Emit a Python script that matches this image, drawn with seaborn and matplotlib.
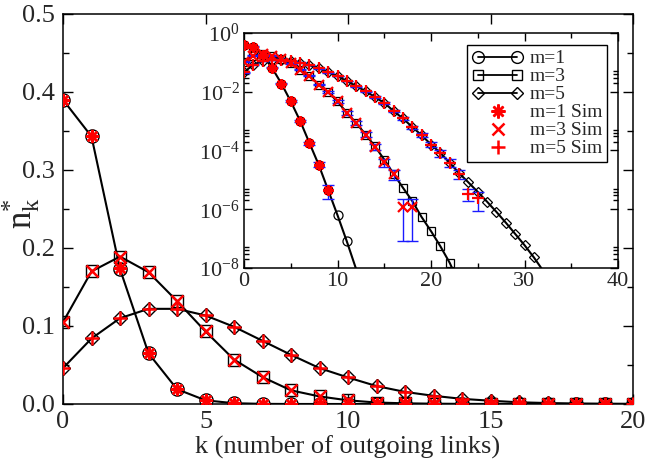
import matplotlib
matplotlib.use("Agg")
import matplotlib.pyplot as plt
import seaborn as sns
import numpy as np
import pandas as pd
from matplotlib.lines import Line2D
from matplotlib.legend_handler import HandlerLine2D
from matplotlib.ticker import MultipleLocator, FixedLocator, NullFormatter, LogFormatterMathtext, FormatStrFormatter

# ---------------- data ----------------
k_theory = list(range(33))
theory_m1 = [0.39, 0.343, 0.173, 0.065, 0.019, 4.7e-3, 1.02e-3, 1.8e-4, 3.2e-5, 4.5e-6,
             6.3e-7, 8.0e-8, 9.0e-9, 0, 0, 0, 0, 0, 0, 0,
             0, 0, 0, 0, 0, 0, 0, 0, 0, 0, 0, 0, 0]
theory_m3 = [0.105, 0.170, 0.189, 0.169, 0.132, 0.093, 0.057, 0.0345, 0.0175, 0.0097,
             0.0047, 0.0019, 8.7e-4, 3.5e-4, 1.4e-4, 4.9e-5, 1.6e-5, 5.4e-6, 1.9e-6, 5.4e-7,
             1.8e-7, 5.5e-8, 1.5e-8, 3.0e-9, 0, 0, 0, 0, 0, 0, 0, 0, 0]
theory_m5 = [0.046, 0.084, 0.110, 0.122, 0.122, 0.1135, 0.099, 0.081, 0.063, 0.046,
             0.034, 0.023, 0.0155, 0.0105, 0.0066, 0.0042, 0.0022, 1.23e-3, 6.3e-4, 3.3e-4,
             1.6e-4, 8.3e-5, 3.8e-5, 1.7e-5, 8.2e-6, 3.9e-6, 1.8e-6, 8.1e-7, 3.5e-7, 1.45e-7,
             6.0e-8, 2.3e-8, 8.0e-9]

k_sim = list(range(26))
sim_m1 = [0.39, 0.343, 0.174, 0.066, 0.019, 4.8e-3, 1.0e-3, 1.8e-4, 3.3e-5, 4.6e-6,
          0, 0, 0, 0, 0, 0, 0, 0, 0, 0, 0, 0, 0, 0, 0, 0]
sim_m3 = [0.105, 0.170, 0.189, 0.169, 0.132, 0.093, 0.057, 0.0345, 0.0175, 0.0097,
          0.0047, 0.0019, 8.6e-4, 3.5e-4, 1.35e-4, 4.0e-5, 1.6e-5, 1.2e-6, 1.2e-6, 0,
          0, 0, 0, 0, 0, 0]
sim_m5 = [0.046, 0.084, 0.110, 0.122, 0.122, 0.1135, 0.099, 0.081, 0.063, 0.046,
          0.034, 0.023, 0.0155, 0.0105, 0.0066, 0.0042, 0.0022, 1.23e-3, 6.3e-4, 3.3e-4,
          1.6e-4, 8.3e-5, 3.8e-5, 1.6e-5, 3.4e-6, 2.4e-6]
# relative error bars of simulation points
relerr_m1 = [0.02, 0.02, 0.02, 0.03, 0.04, 0.06, 0.08, 0.12, 0.2, 0.5,
             0, 0, 0, 0, 0, 0, 0, 0, 0, 0, 0, 0, 0, 0, 0, 0]
relerr_m3 = [0.02, 0.02, 0.02, 0.02, 0.02, 0.02, 0.03, 0.04, 0.05, 0.07,
             0.1, 0.12, 0.15, 0.2, 0.25, 0.3, 0.4, 0.93, 0.93, 0,
             0, 0, 0, 0, 0, 0]
relerr_m5 = [0.02, 0.02, 0.02, 0.02, 0.02, 0.02, 0.02, 0.02, 0.02, 0.02,
             0.02, 0.02, 0.03, 0.04, 0.05, 0.06, 0.08, 0.1, 0.12, 0.15,
             0.2, 0.25, 0.3, 0.35, 0.45, 0.65]

labels_theory = ["m=1", "m=3", "m=5"]
labels_sim = ["m=1 Sim", "m=3 Sim", "m=5 Sim"]
xlabel = "k (number of outgoing links)"
main_xticks = [0, 5, 10, 15, 20]
main_yticks = [0.0, 0.1, 0.2, 0.3, 0.4, 0.5]
inset_xticks = [0, 10, 20, 30, 40]
inset_yticks = [1e0, 1e-2, 1e-4, 1e-6, 1e-8]
inset_yminor = [5e-2, 4e-2, 3e-2, 2e-2, 5e-4, 4e-4, 3e-4, 2e-4,
                5e-6, 4e-6, 3e-6, 2e-6, 5e-8, 4e-8, 3e-8, 2e-8]

# ---------------- style ----------------
SERIF = ["Liberation Serif", "DejaVu Serif"]
sns.set_theme(style="ticks")
plt.rcParams["font.family"] = SERIF
plt.rcParams["mathtext.fontset"] = "custom"
plt.rcParams["mathtext.rm"] = "Liberation Serif"
plt.rcParams["mathtext.it"] = "Liberation Serif:italic"
plt.rcParams["mathtext.bf"] = "Liberation Serif:bold"
plt.rcParams["mathtext.default"] = "regular"
plt.rcParams["axes.unicode_minus"] = False

fig = plt.figure(figsize=(6.47, 4.70), dpi=100)
ax = fig.add_axes([63 / 647, 66 / 470, 570 / 647, 390 / 470])
ins = fig.add_axes([244 / 647, 202 / 470, 374 / 647, 235 / 470])

theory = [theory_m1, theory_m3, theory_m5]
sims = [sim_m1, sim_m3, sim_m5]
relerrs = [relerr_m1, relerr_m3, relerr_m5]
tmarkers = ["o", "s", "D"]
main_ms = [9.5, 8.0, 7.0]
ins_ms = [6.5, 5.5, 5.0]
leg_ms = [8.5, 7.5, 6.5]
smarkers = [(8, 2, 0), "x", "+"]
main_sms = [9.5, 8.0, 10.0]
ins_sms = [7.5, 6.5, 8.0]

# ---------------- main plot ----------------
kt = np.array(k_theory)
ks = np.array(k_sim)
for vals, mk, ms in zip(theory, tmarkers, main_ms):
    v = np.array(vals)
    sel = kt <= 20
    sns.lineplot(x=kt[sel], y=v[sel], ax=ax, color="black", lw=1.5, marker=mk,
                 ms=ms, mfc="none", mec="black", mew=1.0, legend=False, zorder=2)
for vals, mk, ms in zip(sims, smarkers, main_sms):
    v = np.array(vals)
    sel = ks <= 20
    ax.plot(ks[sel], v[sel], ls="none", marker=mk, ms=ms, mec="red", mfc="red",
            mew=1.8, zorder=3)

ax.set_xlim(0, 20)
ax.set_ylim(0, 0.5)
ax.xaxis.set_major_locator(FixedLocator(main_xticks))
ax.yaxis.set_major_locator(FixedLocator(main_yticks))
ax.yaxis.set_minor_locator(MultipleLocator(0.05))
ax.yaxis.set_major_formatter(FormatStrFormatter("%.1f"))
ax.tick_params(which="both", direction="in", top=True, right=True, width=1.0,
               labelsize=19, color="black")
ax.tick_params(which="major", length=7)
ax.tick_params(which="minor", length=4)
ax.tick_params(axis="x", pad=5)
ax.tick_params(axis="y", pad=6)
for s in ax.spines.values():
    s.set_linewidth(1.1)
    s.set_color("black")
ax.set_xlabel(xlabel, fontsize=19, labelpad=2, family=SERIF)
ax.set_ylabel(r"$\mathrm{n}_\mathrm{k}^{*}$", fontsize=25)
ax.yaxis.set_label_coords(-0.037, 0.49)
for t in ax.get_xticklabels() + ax.get_yticklabels():
    t.set_family(SERIF)

# ---------------- inset ----------------
ins.set_yscale("log")
ins.set_xlim(0, 40)
ins.set_ylim(1e-8, 1)
for vals, mk, ms in zip(theory, tmarkers, ins_ms):
    v = np.array(vals, dtype=float)
    v[v <= 0] = np.nan
    vis = [i for i, val in enumerate(vals) if val >= 1e-8]
    sns.lineplot(x=kt, y=v, ax=ins, color="black", lw=1.5, marker=mk, ms=ms,
                 mfc="none", mec="black", mew=0.9, markevery=vis, legend=False,
                 zorder=2)
for vals, errs, mk, ms in zip(sims, relerrs, smarkers, ins_sms):
    v = np.array(vals, dtype=float)
    e = np.array(errs) * v
    sel = v > 0
    ins.errorbar(ks[sel], v[sel], yerr=e[sel], fmt="none", ecolor="#1a1aff",
                 elinewidth=1.0, capsize=4.5, capthick=1.0, zorder=3)
    ins.plot(ks[sel], v[sel], ls="none", marker=mk, ms=ms, mec="red", mfc="red",
             mew=1.6, zorder=4)

ins.xaxis.set_major_locator(FixedLocator(inset_xticks))
ins.xaxis.set_minor_locator(MultipleLocator(5))
ins.yaxis.set_major_locator(FixedLocator(inset_yticks))
ins.yaxis.set_major_formatter(LogFormatterMathtext())
ins.yaxis.set_minor_locator(FixedLocator(inset_yminor))
ins.yaxis.set_minor_formatter(NullFormatter())
ins.tick_params(which="both", direction="in", top=True, right=True, width=1.0,
                labelsize=16, color="black")
ins.tick_params(which="major", length=6)
ins.tick_params(which="minor", length=3.5)
ins.tick_params(axis="x", pad=3)
ins.tick_params(axis="y", pad=3)
for s in ins.spines.values():
    s.set_linewidth(1.1)
    s.set_color("black")
ins.set_xlabel("")
ins.set_ylabel("")
for t in ins.get_xticklabels() + ins.get_yticklabels():
    t.set_family(SERIF)

# legend
handles = []
hmap = {}
for mk, ms in zip(tmarkers, leg_ms):
    handles.append(Line2D([], [], color="black", lw=1.3, marker=mk, ms=ms,
                          mfc="none", mec="black", mew=1.0))
for mk, ms in zip(smarkers, [10, 8.5, 10.5]):
    h = Line2D([], [], ls="none", marker=mk, ms=ms, mec="red", mfc="red", mew=1.8)
    handles.append(h)
    hmap[h] = HandlerLine2D(numpoints=1)
leg = ins.legend(handles, labels_theory + labels_sim, loc="upper right",
                 bbox_to_anchor=(0.9706, 0.949), borderaxespad=0, numpoints=2,
                 handler_map=hmap, frameon=True, fancybox=False, edgecolor="black",
                 framealpha=1, prop={"family": SERIF, "size": 14}, handlelength=2.6,
                 handletextpad=0.35, labelspacing=0.02, borderpad=0.25)
leg.get_frame().set_linewidth(1.0)

fig.savefig("out.png", dpi=100)
